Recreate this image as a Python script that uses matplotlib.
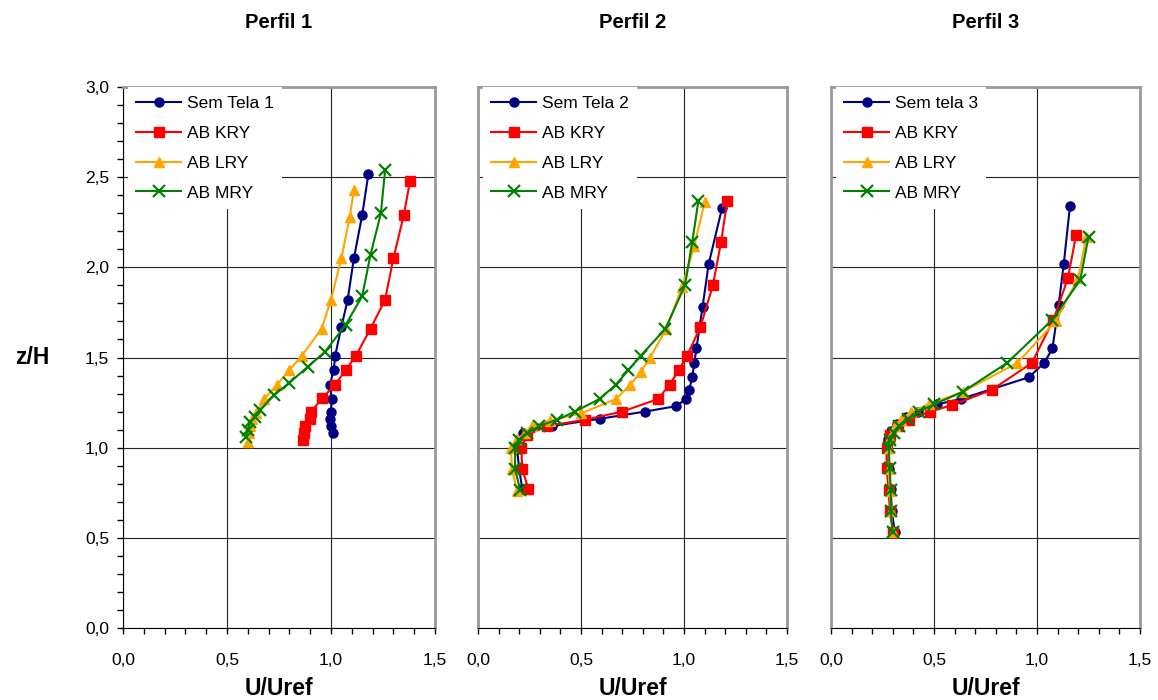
import numpy as np
import matplotlib
matplotlib.use("Agg")
import matplotlib.pyplot as plt
from matplotlib.ticker import MultipleLocator, FuncFormatter

plt.rcParams['font.family'] = ['Liberation Sans', 'DejaVu Sans']

## perfil 1
st1_u = [1.18, 1.15, 1.11, 1.08, 1.05, 1.02, 1.013, 0.995, 1.003, 1.0, 0.997, 1.0, 1.01]
st1_z = [2.52, 2.29, 2.05, 1.82, 1.67, 1.51, 1.43, 1.35, 1.27, 1.20, 1.16, 1.12, 1.08]
kry1_u = [1.38, 1.35, 1.30, 1.26, 1.19, 1.12, 1.07, 1.02, 0.958, 0.905, 0.897, 0.875, 0.87, 0.865]
kry1_z = [2.48, 2.29, 2.05, 1.82, 1.66, 1.51, 1.43, 1.35, 1.275, 1.20, 1.16, 1.12, 1.08, 1.04]
lry1_u = [1.11, 1.09, 1.05, 1.00, 0.955, 0.86, 0.80, 0.74, 0.68, 0.64, 0.62, 0.61, 0.605, 0.60]
lry1_z = [2.43, 2.28, 2.05, 1.82, 1.66, 1.51, 1.43, 1.35, 1.27, 1.19, 1.16, 1.12, 1.08, 1.03]
mry1_u = [1.26, 1.24, 1.19, 1.15, 1.07, 0.97, 0.89, 0.80, 0.725, 0.66, 0.635, 0.61, 0.60, 0.59]
mry1_z = [2.54, 2.30, 2.07, 1.84, 1.68, 1.53, 1.45, 1.36, 1.29, 1.21, 1.17, 1.14, 1.10, 1.06]

## perfil 2
st2_u = [1.185, 1.12, 1.09, 1.06, 1.05, 1.04, 1.025, 1.01, 0.96, 0.81, 0.59, 0.36, 0.22, 0.19, 0.20, 0.215]
st2_z = [2.33, 2.02, 1.78, 1.55, 1.47, 1.39, 1.32, 1.27, 1.23, 1.20, 1.16, 1.12, 1.08, 0.99, 0.88, 0.77]
kry2_u = [1.21, 1.18, 1.14, 1.08, 1.015, 0.975, 0.93, 0.875, 0.70, 0.52, 0.335, 0.24, 0.21, 0.215, 0.245]
kry2_z = [2.37, 2.14, 1.90, 1.67, 1.51, 1.43, 1.35, 1.27, 1.20, 1.155, 1.12, 1.07, 1.0, 0.88, 0.77]
lry2_u = [1.10, 1.05, 0.99, 0.915, 0.835, 0.79, 0.74, 0.67, 0.50, 0.35, 0.26, 0.23, 0.19, 0.16, 0.165, 0.19]
lry2_z = [2.36, 2.12, 1.89, 1.66, 1.50, 1.42, 1.35, 1.27, 1.19, 1.15, 1.12, 1.08, 1.05, 1.0, 0.88, 0.76]
mry2_u = [1.07, 1.04, 1.005, 0.91, 0.79, 0.73, 0.67, 0.59, 0.47, 0.385, 0.295, 0.24, 0.20, 0.18, 0.18, 0.205]
mry2_z = [2.37, 2.14, 1.90, 1.66, 1.51, 1.43, 1.35, 1.27, 1.20, 1.155, 1.12, 1.08, 1.04, 1.0, 0.88, 0.765]

## perfil 3
st3_u = [1.16, 1.13, 1.105, 1.075, 1.035, 0.96, 0.63, 0.515, 0.42, 0.365, 0.32, 0.29, 0.275, 0.27, 0.28, 0.29, 0.295, 0.31]
st3_z = [2.34, 2.02, 1.79, 1.55, 1.47, 1.39, 1.27, 1.24, 1.20, 1.17, 1.13, 1.09, 1.05, 1.0, 0.88, 0.77, 0.65, 0.53]
kry3_u = [1.19, 1.15, 1.08, 0.975, 0.78, 0.585, 0.48, 0.38, 0.325, 0.285, 0.27, 0.27, 0.28, 0.285, 0.30]
kry3_z = [2.18, 1.94, 1.71, 1.47, 1.32, 1.235, 1.20, 1.155, 1.12, 1.07, 1.0, 0.885, 0.765, 0.65, 0.535]
lry3_u = [1.24, 1.20, 1.09, 0.905, 0.64, 0.475, 0.39, 0.34, 0.31, 0.285, 0.28, 0.28, 0.285, 0.29, 0.30]
lry3_z = [2.17, 1.94, 1.70, 1.47, 1.31, 1.24, 1.20, 1.155, 1.12, 1.055, 1.0, 0.88, 0.76, 0.65, 0.535]
mry3_u = [1.25, 1.21, 1.075, 0.855, 0.64, 0.50, 0.425, 0.375, 0.33, 0.305, 0.285, 0.28, 0.285, 0.29, 0.29, 0.30]
mry3_z = [2.17, 1.93, 1.71, 1.47, 1.31, 1.24, 1.20, 1.16, 1.12, 1.08, 1.045, 1.005, 0.885, 0.765, 0.65, 0.53]

titles = ["Perfil 1", "Perfil 2", "Perfil 3"]
ref_names = ["Sem Tela 1", "Sem Tela 2", "Sem tela 3"]
other_names = ["AB KRY", "AB LRY", "AB MRY"]

panels = [
    [(st1_u, st1_z), (kry1_u, kry1_z), (lry1_u, lry1_z), (mry1_u, mry1_z)],
    [(st2_u, st2_z), (kry2_u, kry2_z), (lry2_u, lry2_z), (mry2_u, mry2_z)],
    [(st3_u, st3_z), (kry3_u, kry3_z), (lry3_u, lry3_z), (mry3_u, mry3_z)],
]

colors = ["#000080", "#ff0000", "#ffa500", "#008000"]
markers = ["o", "s", "^", "x"]
msizes = [6.5, 6.5, 7, 9]

lefts = [123, 478, 831]
widths = [312, 309, 309]
W, H = 1158, 700

fig = plt.figure(figsize=(W / 100, H / 100), dpi=100)
comma = FuncFormatter(lambda v, p: ("%.1f" % v).replace(".", ","))

for i in range(3):
    ax = fig.add_axes([lefts[i] / W, 72 / H, widths[i] / W, 541 / H])
    names = [ref_names[i]] + other_names
    for k in range(4):
        u, z = panels[i][k]
        ax.plot(u, z, color=colors[k], marker=markers[k], ms=msizes[k],
                mew=1.6 if markers[k] == "x" else 1, lw=1.5, label=names[k])

    ax.set_xlim(0, 1.5)
    ax.set_ylim(0, 3.0)
    ax.xaxis.set_major_locator(MultipleLocator(0.5))
    ax.xaxis.set_minor_locator(MultipleLocator(0.1))
    ax.yaxis.set_major_locator(MultipleLocator(0.5))
    ax.yaxis.set_minor_locator(MultipleLocator(0.1))
    ax.xaxis.set_major_formatter(comma)
    ax.yaxis.set_major_formatter(comma)
    ax.grid(True, which="major", color="#222222", lw=0.8)
    ax.set_axisbelow(True)

    ax.tick_params(which="both", direction="out", length=4, width=1, labelsize=12.5)
    ax.tick_params(axis="x", which="major", pad=14)
    ax.tick_params(axis="y", which="major", pad=6)

    for s in ["top", "right"]:
        ax.spines[s].set_color("#999999")
        ax.spines[s].set_linewidth(2)
    ax.spines["bottom"].set_color("black")
    if i == 0:
        ax.spines["left"].set_color("black")
        ax.set_ylabel("z/H", fontsize=16.5, fontweight="bold", rotation=0, ha="center", va="center")
        ax.yaxis.set_label_coords(-0.292, 0.5)
    else:
        ax.spines["left"].set_color("#999999")
        ax.spines["left"].set_linewidth(2)
        ax.tick_params(axis="y", which="both", left=False, labelleft=False)

    ax.set_xlabel("U/Uref", fontsize=16.5, fontweight="bold", va="center")
    ax.xaxis.set_label_coords(0.5, -0.111)
    ax.text(0.5, 1.12, titles[i], transform=ax.transAxes, ha="center", va="center",
            fontsize=14.5, fontweight="bold")

    leg = ax.legend(loc="upper left", bbox_to_anchor=(0.015, 1.0), borderaxespad=0,
                    fontsize=12.5, frameon=True, fancybox=False, framealpha=1,
                    handlelength=2.6, handletextpad=0.3, labelspacing=0.85, borderpad=0.5)
    leg.get_frame().set_edgecolor("none")
    leg.get_frame().set_facecolor("white")

plt.savefig("out.png", dpi=100)
